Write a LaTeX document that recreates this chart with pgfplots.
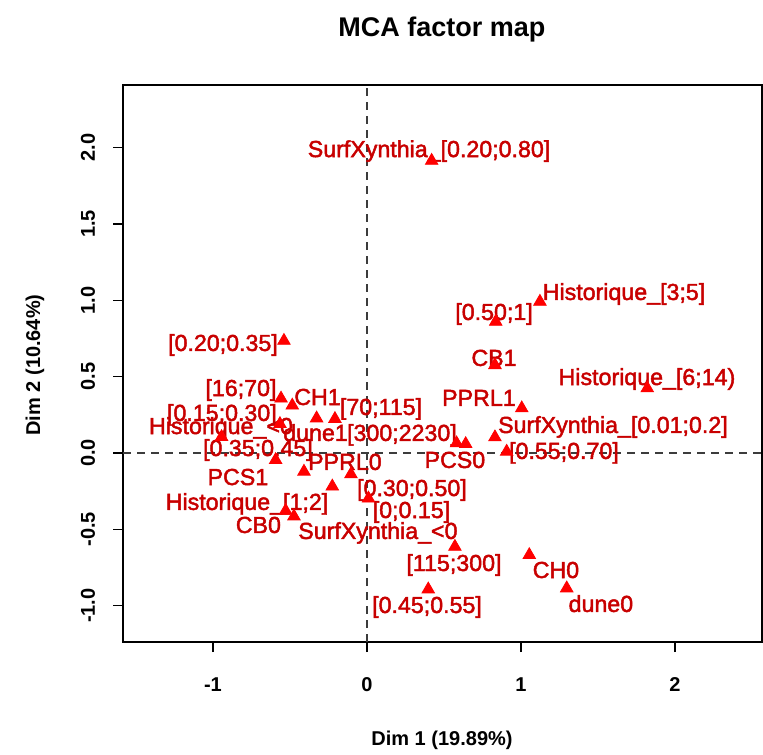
\documentclass[border=0pt]{standalone}
\usepackage{fontspec}
\setmainfont{Liberation Sans}
\newfontfamily\labfont{Liberation Sans}[FakeBold=2]
\usepackage{pgfplots}
\pgfplotsset{compat=1.18}
\definecolor{labred}{RGB}{200,0,0}
\definecolor{trired}{RGB}{255,0,0}
\definecolor{dashgray}{RGB}{60,60,60}

% category coordinates (Dim 1, Dim 2)
\pgfplotstableread{
x y
0.420 1.914
1.123 0.991
0.836 0.860
-0.539 0.735
0.831 0.576
1.820 0.424
-0.558 0.357
-0.485 0.311
-0.327 0.227
-0.208 0.223
1.005 0.293
0.831 0.103
0.582 0.064
0.641 0.059
0.907 0.009
-0.944 0.105
-0.565 0.190
-0.593 -0.046
-0.409 -0.122
-0.104 -0.139
-0.225 -0.219
0.010 -0.298
-0.528 -0.378
-0.474 -0.415
0.571 -0.614
1.054 -0.668
0.398 -0.893
1.297 -0.886
}\pts

\newcommand{\lab}[3]{\node[anchor=base,inner sep=0pt,text=labred,font=\labfont\fontsize{11.6}{13}\selectfont] at (axis cs:#1,#2) {#3};}

\begin{document}
\begin{tikzpicture}
\begin{axis}[
  at={(61.5pt,56pt)}, anchor=south west,
  scale only axis, width=319.5pt, height=278.5pt,
  xmin=-1.584, xmax=2.565, ymin=-1.238, ymax=2.41,
  axis line style={black, line width=0.7pt},
  tick style={black, line width=0.7pt},
  major tick length=5pt, tick align=outside,
  xtick pos=bottom, ytick pos=left,
  xtick={-1,0,1,2}, ytick={-1,-0.5,0,0.5,1,1.5,2},
  /pgf/number format/assume math mode=true,
  tick label style={font=\bfseries\fontsize{10}{12}\selectfont},
  xticklabel style={anchor=center, yshift=-16.5pt},
  yticklabel style={xshift=-12.5pt, rotate=90, anchor=center,
    /pgf/number format/fixed, /pgf/number format/fixed zerofill,
    /pgf/number format/precision=1},
  clip=false,
]
\draw[dashgray, line width=0.6pt, dash pattern=on 4pt off 3pt] (axis cs:0,-1.238) -- (axis cs:0,2.41);
\draw[dashgray, line width=0.6pt, dash pattern=on 4pt off 3pt] (axis cs:-1.584,0) -- (axis cs:2.565,0);
\addplot[only marks, mark=triangle*, mark size=3.6pt, color=trired] table[x=x,y=y] {\pts};
\lab{0.403}{1.938}{SurfXynthia\_[0.20;0.80]}
\lab{1.669}{1.002}{Historique\_[3;5]}
\lab{0.825}{0.871}{[0.50;1]}
\lab{-0.935}{0.668}{[0.20;0.35]}
\lab{0.825}{0.570}{CB1}
\lab{1.818}{0.445}{Historique\_[6;14)}
\lab{0.727}{0.308}{PPRL1}
\lab{-0.818}{0.373}{[16;70]}
\lab{-0.321}{0.314}{CH1}
\lab{0.091}{0.249}{[70;115]}
\lab{-0.942}{0.210}{[0.15;0.30]}
\lab{-0.948}{0.124}{Historique\_<0}
\lab{-0.334}{0.079}{dune1}
\lab{0.227}{0.079}{[300;2230]}
\lab{1.597}{0.131}{SurfXynthia\_[0.01;0.2]}
\lab{0.571}{-0.098}{PCS0}
\lab{1.279}{-0.039}{[0.55;0.70]}
\lab{-0.708}{-0.020}{[0.35;0.45]}
\lab{-0.143}{-0.111}{PPRL0}
\lab{-0.838}{-0.210}{PCS1}
\lab{0.292}{-0.282}{[0.30;0.50]}
\lab{-0.779}{-0.373}{Historique\_[1;2]}
\lab{0.289}{-0.426}{[0;0.15]}
\lab{-0.705}{-0.524}{CB0}
\lab{0.071}{-0.563}{SurfXynthia\_<0}
\lab{0.565}{-0.773}{[115;300]}
\lab{1.227}{-0.819}{CH0}
\lab{0.390}{-1.048}{[0.45;0.55]}
\lab{1.519}{-1.041}{dune0}
\end{axis}
\node[font=\bfseries\fontsize{13.5}{15}\selectfont] at (221pt,362pt) {MCA factor map};
\node[font=\bfseries\fontsize{10}{12}\selectfont] at (221pt,7pt) {Dim 1 (19.89\%)};
\node[font=\bfseries\fontsize{10}{12}\selectfont, rotate=90] at (17.5pt,194.5pt) {Dim 2 (10.64\%)};
\pgfresetboundingbox
\path[use as bounding box] (0,0) rectangle (381.5pt,377pt);
\end{tikzpicture}
\end{document}
